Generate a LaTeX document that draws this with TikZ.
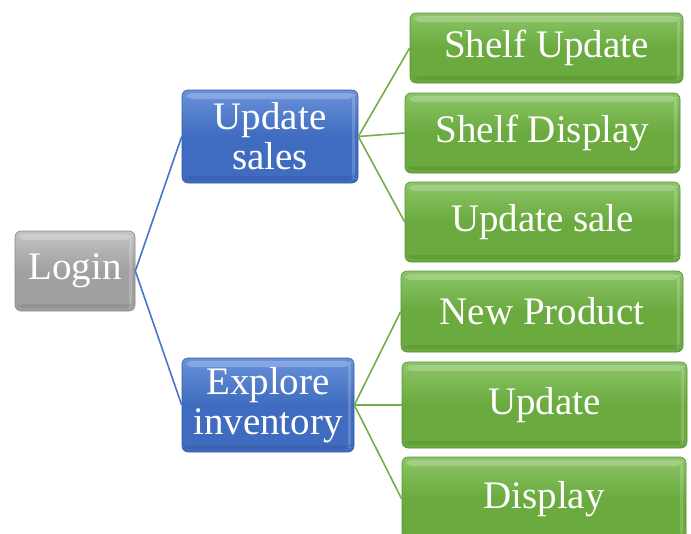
\documentclass[tikz,border=0pt]{standalone}
\usepackage{fontspec}
\setmainfont{Liberation Serif}
\definecolor{gmain}{HTML}{6AAA3E}
\definecolor{glight}{HTML}{8CC567}
\definecolor{gline}{HTML}{74AE4A}
\definecolor{bmain}{HTML}{3F6CC0}
\definecolor{blight}{HTML}{6A92DA}
\definecolor{bline}{HTML}{4A74C8}
\definecolor{kmain}{HTML}{A0A0A0}
\definecolor{klight}{HTML}{C4C4C4}
\tikzset{
  boxbase/.style={rounded corners=6pt, inner sep=0pt, align=center, text=white,
    font=\fontsize{39}{40}\selectfont,
    path picture={
      \fill[white,opacity=0.22] ([xshift=4pt,yshift=-3pt]path picture bounding box.north west) rectangle ([xshift=-4pt,yshift=-9pt]path picture bounding box.north east);
      \fill[white,opacity=0.18] ([xshift=-6pt,yshift=-4pt]path picture bounding box.north east) rectangle ([xshift=-3pt,yshift=4pt]path picture bounding box.south east);
      \fill[black,opacity=0.08] ([xshift=3pt,yshift=3pt]path picture bounding box.south west) rectangle ([xshift=-3pt,yshift=7pt]path picture bounding box.south east);
    }},
  gbox/.style={boxbase, top color=glight, bottom color=gmain, middle color=gmain, draw=gmain!85!black, line width=0.6pt},
  bbox/.style={boxbase, top color=blight, bottom color=bmain, middle color=bmain, draw=bmain!85!black, line width=0.6pt},
  kbox/.style={boxbase, top color=klight, bottom color=kmain, middle color=kmain, draw=kmain!85!black, line width=0.6pt},
  bconn/.style={draw=bline, line width=1.6pt},
  gconn/.style={draw=gline, line width=1.6pt}
}
\begin{document}
\begin{tikzpicture}[x=1pt,y=1pt]
\useasboundingbox (0,0) rectangle (691,-533);
\clip (0,0) rectangle (691,-533);
\node[kbox, minimum width=120pt, minimum height=80pt] (login) at (75,-271) {Login};
\node[bbox, minimum width=176pt, minimum height=93pt] (upd) at (270,-136.5) {Update\\sales};
\node[bbox, minimum width=172pt, minimum height=94pt] (exp) at (268,-405) {Explore\\inventory};
\node[gbox, minimum width=273pt, minimum height=70pt] (su) at (546.5,-48) {Shelf Update};
\node[gbox, minimum width=275pt, minimum height=80pt] (sd) at (542.5,-133) {Shelf Display};
\node[gbox, minimum width=275pt, minimum height=80pt] (us) at (542.5,-222) {Update sale};
\node[gbox, minimum width=282pt, minimum height=81pt] (np) at (542,-311.5) {New Product};
\node[gbox, minimum width=285pt, minimum height=86pt] (up) at (544.5,-405) {Update};
\node[gbox, minimum width=284pt, minimum height=84pt] (dp) at (544,-499) {Display};
\draw[bconn] (login.east) -- (upd.west);
\draw[bconn] (login.east) -- (exp.west);
\draw[gconn] (upd.east) -- (su.west);
\draw[gconn] (upd.east) -- (sd.west);
\draw[gconn] (upd.east) -- (us.west);
\draw[gconn] (exp.east) -- (np.west);
\draw[gconn] (exp.east) -- (up.west);
\draw[gconn] (exp.east) -- (dp.west);
\end{tikzpicture}
\end{document}
